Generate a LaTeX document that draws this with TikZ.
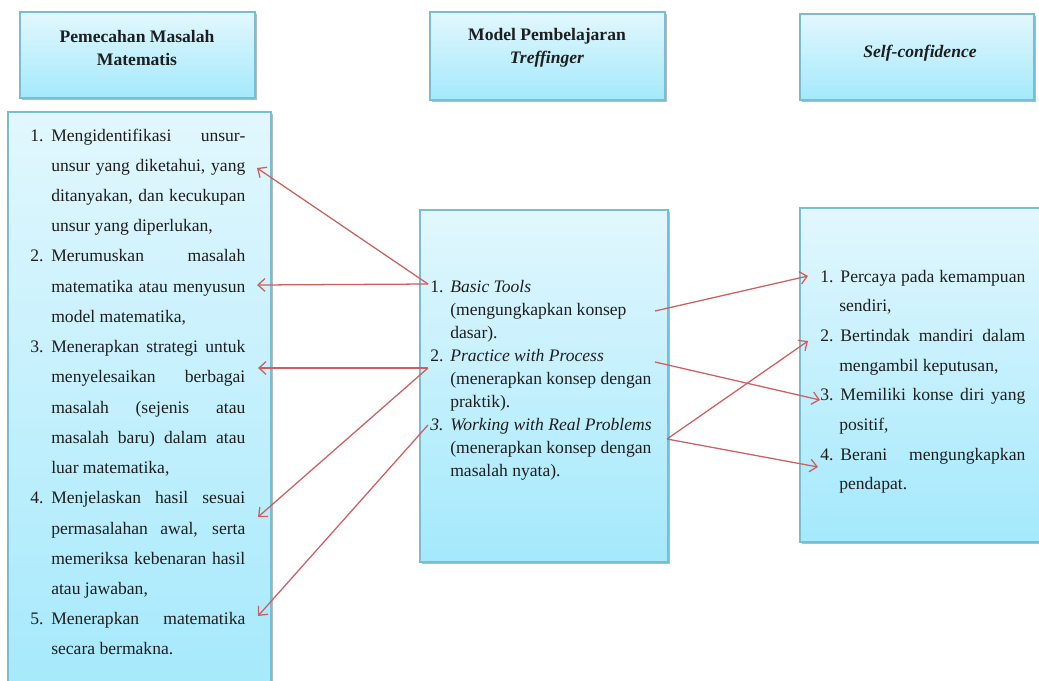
\documentclass[tikz,border=0pt]{standalone}
\usepackage{fontspec}
\setmainfont{Liberation Serif}
\usepackage{enumitem}
\usetikzlibrary{arrows.meta,shadows}
\definecolor{PanelTop}{RGB}{226,247,253}
\definecolor{PanelBottom}{RGB}{164,233,252}
\definecolor{PanelEdge}{RGB}{118,190,212}
\definecolor{LinkRed}{RGB}{205,95,95}
\definecolor{InkDark}{RGB}{30,30,30}
\newcommand{\panelfont}{\fontsize{12.5}{16.4}\selectfont}
\tolerance=10000
\hyphenpenalty=10000

\begin{document}
\begin{tikzpicture}[x=0.025cm,y=-0.025cm,
    panel/.style={draw=PanelEdge,line width=1.1pt,top color=PanelTop,bottom color=PanelBottom,
        drop shadow={shadow xshift=0.05cm,shadow yshift=-0.06cm,fill=black!60,opacity=0.45},inner sep=0pt},
    headtext/.style={anchor=base,inner sep=0pt,font=\panelfont\bfseries,text=InkDark},
    listtext/.style={anchor=base west,inner sep=0pt,text=InkDark},
    link/.style={draw=LinkRed,line width=0.9pt,-{Straight Barb[length=5pt,width=9pt]}}]
\useasboundingbox (0,0) rectangle (1039,680);

\node[panel,minimum width=5.875cm,minimum height=2.15cm] (headPM) at (137.5,55) {};
\node[panel,minimum width=5.875cm,minimum height=2.2cm] (headMP) at (547.5,56) {};
\node[panel,minimum width=5.85cm,minimum height=2.15cm] (headSC) at (917,57) {};
\node[panel,minimum width=6.575cm,minimum height=14.7cm] (boxPM) at (139.5,406) {};
\node[panel,minimum width=6.2cm,minimum height=8.8cm] (boxMP) at (544,386) {};
\node[panel,minimum width=6.25cm,minimum height=8.35cm] (boxSC) at (925,375) {};

\node[headtext] (titlePM) at (137,42)
    {\begin{tabular}[t]{@{}c@{}}Pemecahan Masalah\\Matematis\end{tabular}};
\node[headtext] (titleMP) at (547,40)
    {\begin{tabular}[t]{@{}c@{}}Model Pembelajaran\\\textit{Treffinger}\end{tabular}};
\node[headtext] (titleSC) at (920,57) {\textit{Self-confidence}};

\node[listtext] (listPM) at (30,141) {\begin{minipage}[t]{5.375cm}
    \fontsize{12.5}{21.5}\selectfont
    \begin{enumerate}[label=\arabic*.,leftmargin=0.525cm,labelwidth=0.35cm,labelsep=0.175cm,align=left,nosep]
    \item Mengidentifikasi unsur-\linebreak unsur yang diketahui, yang\linebreak
        ditanyakan, dan kecukupan\linebreak unsur yang diperlukan,
    \item Merumuskan masalah\linebreak matematika atau menyusun\linebreak model matematika,
    \item Menerapkan strategi untuk\linebreak menyelesaikan berbagai\linebreak
        masalah (sejenis atau\linebreak masalah baru) dalam atau\linebreak luar matematika,
    \item Menjelaskan hasil sesuai\linebreak permasalahan awal, serta\linebreak
        memeriksa kebenaran hasil\linebreak atau jawaban,
    \item Menerapkan matematika\linebreak secara bermakna.
    \end{enumerate}\end{minipage}};

\node[listtext] (listMP) at (430,292) {\begin{minipage}[t]{6cm}
    \fontsize{12.5}{16.4}\selectfont\raggedright
    \begin{enumerate}[label=\arabic*.,leftmargin=0.5cm,labelwidth=0.35cm,labelsep=0.15cm,align=left,nosep]
    \item \textit{Basic Tools}\newline (mengungkapkan konsep\newline dasar).
    \item \textit{Practice with Process}\newline (menerapkan konsep dengan\newline praktik).
    \item[\textit{3.}] \textit{Working with Real Problems}\newline (menerapkan konsep dengan\newline masalah nyata).
    \end{enumerate}\end{minipage}};

\node[listtext] (listSC) at (820,282) {\begin{minipage}[t]{5.125cm}
    \fontsize{12.5}{21.1}\selectfont
    \begin{enumerate}[label=\arabic*.,leftmargin=0.475cm,labelwidth=0.3cm,labelsep=0.175cm,align=left,nosep]
    \item Percaya pada kemampuan\linebreak sendiri,
    \item Bertindak mandiri dalam\linebreak mengambil keputusan,
    \item Memiliki konse diri yang\linebreak positif,
    \item Berani mengungkapkan\linebreak pendapat.
    \end{enumerate}\end{minipage}};

\coordinate (fromMP1) at (428,284);
\coordinate (fromMP2) at (428,368);
\coordinate (fromMP3) at (428,425);
\coordinate (fromMP4) at (655,311);
\coordinate (fromMP5) at (655,362);
\coordinate (fromMP6) at (667,439);
\coordinate (toPM1) at (257,168);
\coordinate (toPM2) at (257,285);
\coordinate (toPM3) at (258,368);
\coordinate (toPM4) at (258,517);
\coordinate (toPM5) at (258,616);
\coordinate (toSC1) at (808,276);
\coordinate (toSC2) at (808,341);
\coordinate (toSC3) at (820,400);
\coordinate (toSC4) at (818,467);

\draw[link] (fromMP1) -- (toPM1);
\draw[link] (fromMP1) -- (toPM2);
\draw[link] (fromMP2) -- (toPM3);
\draw[link] (fromMP2) -- (toPM4);
\draw[link] (fromMP3) -- (toPM5);
\draw[link] (fromMP4) -- (toSC1);
\draw[link] (fromMP5) -- (toSC3);
\draw[link] (fromMP6) -- (toSC2);
\draw[link] (fromMP6) -- (toSC4);
\end{tikzpicture}
\end{document}
